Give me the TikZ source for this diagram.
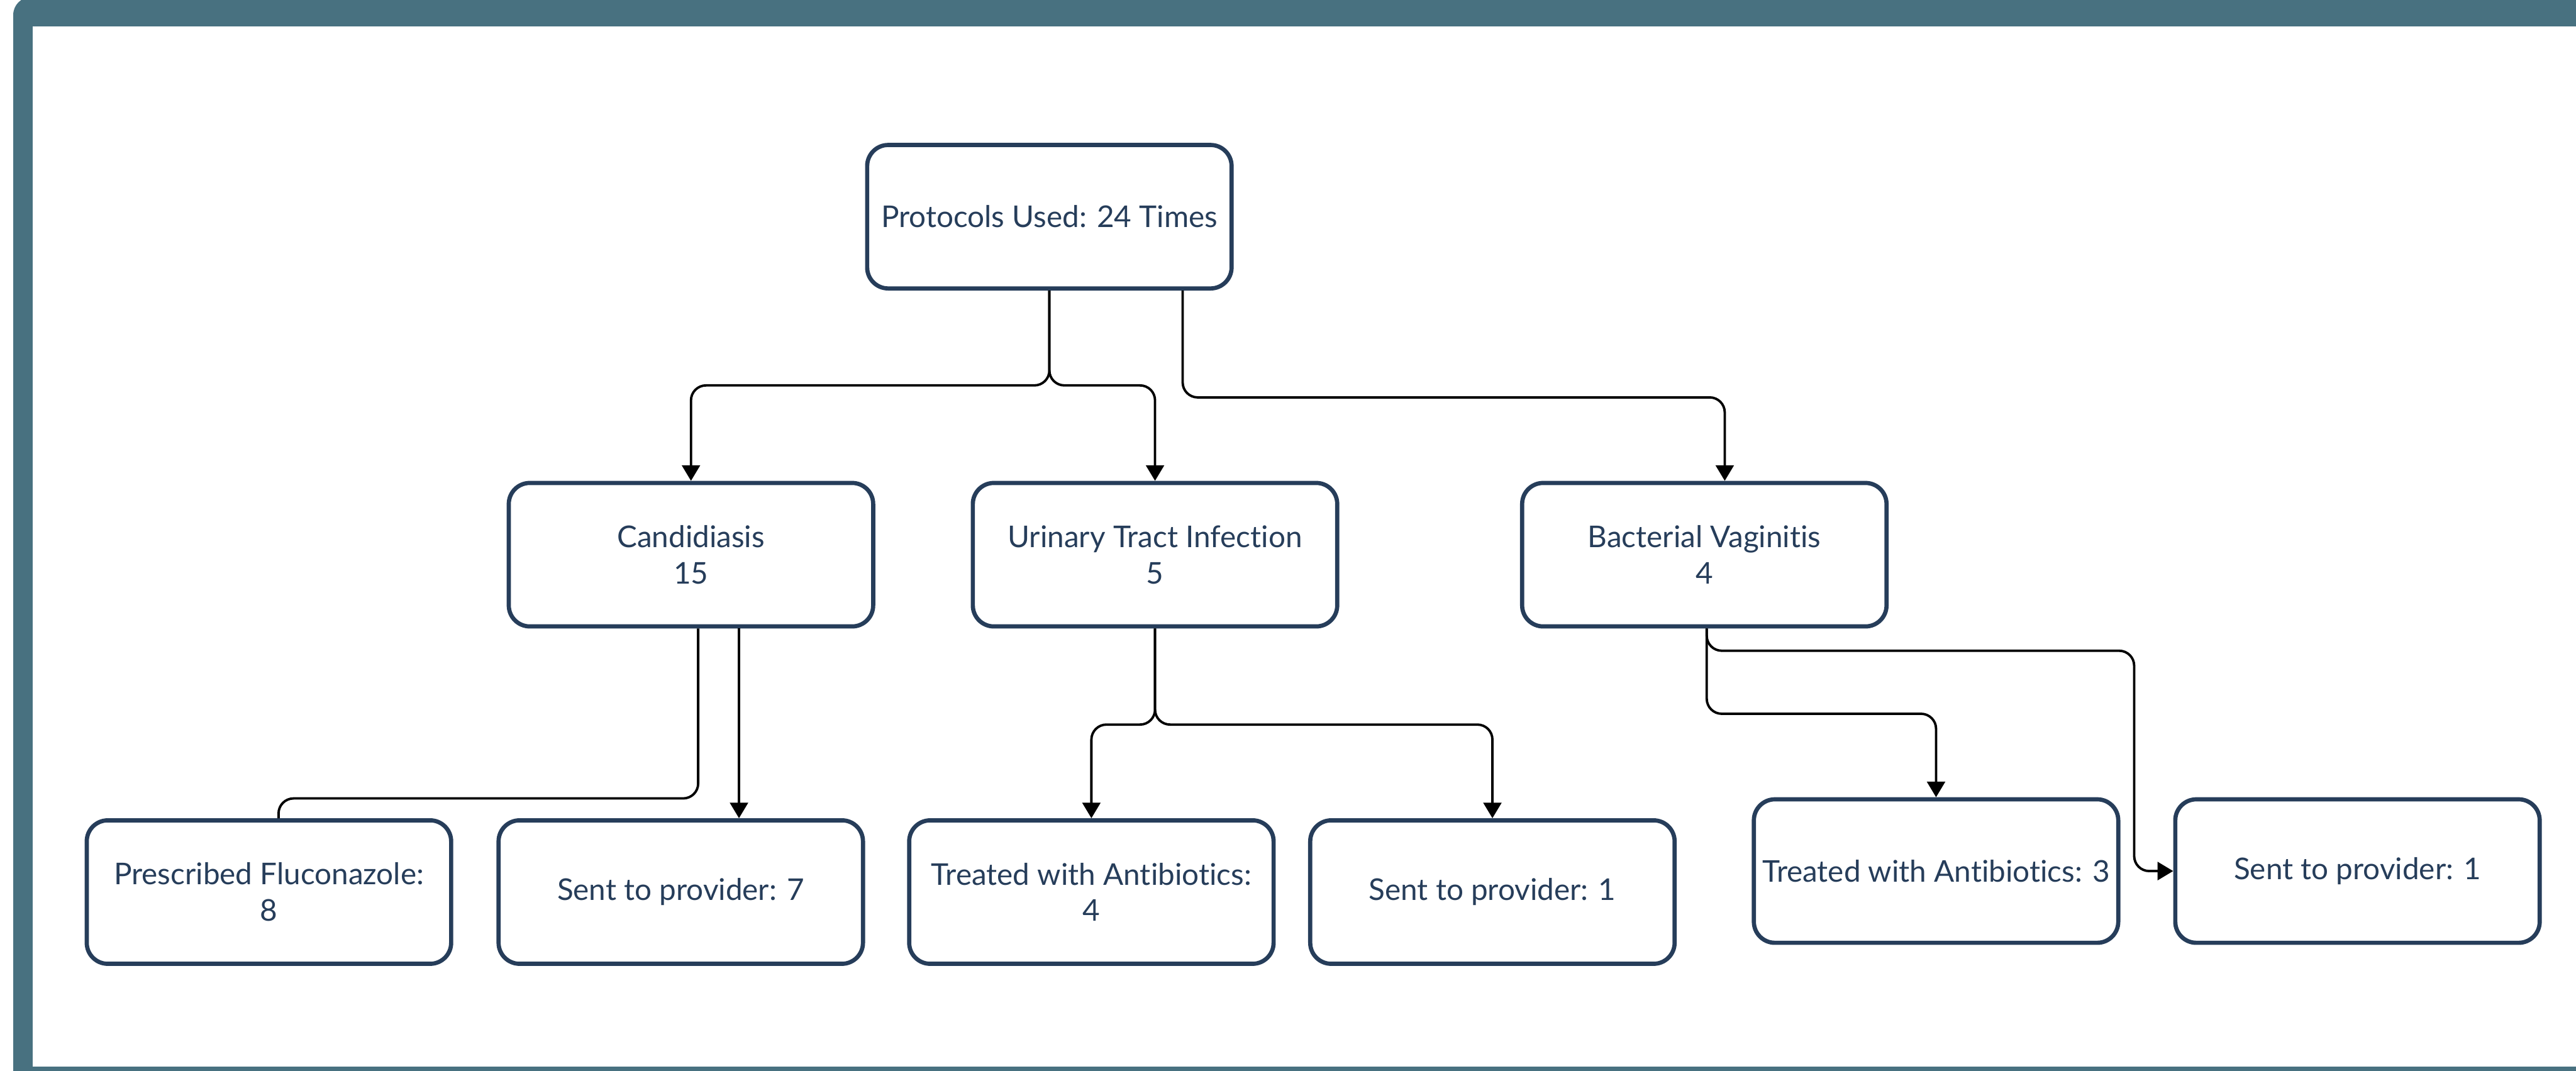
\documentclass[tikz,border=0pt]{standalone}
\usepackage{fontspec}
\setmainfont{Lato}[Ligatures=NoCommon]
\usetikzlibrary{arrows.meta}
\definecolor{framec}{RGB}{72,113,128}
\definecolor{boxc}{RGB}{38,61,90}
\begin{document}
\begin{tikzpicture}[>={Triangle[length=2.6mm,width=3mm]}, line join=round,
    box/.style={draw=boxc, line width=0.7mm, rounded corners=3.5mm, fill=white, text=boxc,
      align=center, minimum width=60.7mm, minimum height=23.9mm, inner sep=0pt,
      font=\fontsize{14.2}{17.2}\selectfont},
    conn/.style={draw=black, line width=0.4mm, rounded corners=2.5mm}]
  \def\W{42.91} \def\H{17.84}
  \useasboundingbox (0,0) rectangle (\W,-\H);
  \clip (0,0) rectangle (\W,-\H);
  % frame
  \fill[framec, rounded corners=3mm] (0.22,0.05) rectangle (\W+1,-\H-1);
  \fill[white] (0.54,-0.44) rectangle (\W+1,-17.77);
  % boxes
  \node[box] (top) at (17.48,-3.61) {Protocols Used: 24 Times};
  \node[box] (cand) at (11.51,-9.24) {Candidiasis\\15};
  \node[box] (uti) at (19.24,-9.24) {Urinary Tract Infection\\5};
  \node[box] (bv) at (28.39,-9.24) {Bacterial Vaginitis\\4};
  \node[box] (fluc) at (4.48,-14.86) {Prescribed Fluconazole:\\8};
  \node[box] (candprov) at (11.34,-14.86) {Sent to provider: 7};
  \node[box] (utiabx) at (18.18,-14.86) {Treated with Antibiotics:\\4};
  \node[box] (utiprov) at (24.86,-14.86) {Sent to provider: 1};
  \node[box] (bvabx) at (32.25,-14.51) {Treated with Antibiotics: 3};
  \node[box] (bvprov) at (39.27,-14.51) {Sent to provider: 1};
  % connectors
  \draw[conn,->] (top.south) -- ++(0,-1.58) -| (cand.north);
  \draw[conn,->] (top.south) -- ++(0,-1.58) -| (uti.north);
  \draw[conn,->] ([xshift=2.22cm]top.south) -- ++(0,-1.78) -| ([xshift=0.34cm]bv.north);
  \draw[conn] ([xshift=0.12cm]cand.south) -- ++(0,-2.83) -| ([xshift=0.16cm]fluc.north);
  \draw[conn,->] ([xshift=0.8cm]cand.south) -- ([xshift=0.8cm]cand.south |- candprov.north);
  \draw[conn,->] (uti.south) -- ++(0,-1.60) -| (utiabx.north);
  \draw[conn,->] (uti.south) -- ++(0,-1.60) -| (utiprov.north);
  \draw[conn,->] ([xshift=0.04cm]bv.south) -- ++(0,-1.42) -| (bvabx.north);
  \draw[conn,->] ([xshift=0.04cm]bv.south) -- ++(0,-0.37) -| ([xshift=-0.65cm]bvprov.west) -- (bvprov.west);
\end{tikzpicture}
\end{document}
